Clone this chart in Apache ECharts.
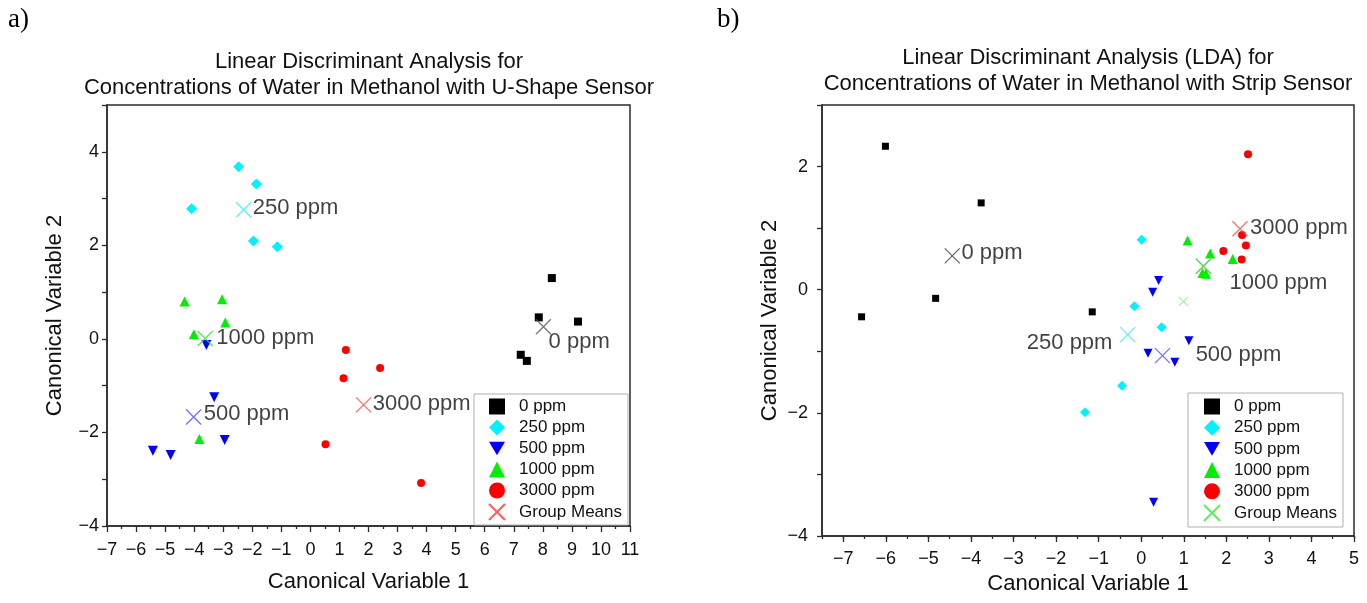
<!DOCTYPE html>
<html>
<head>
<meta charset="utf-8">
<script src="https://cdn.jsdelivr.net/npm/echarts@6/dist/echarts.min.js"></script>
<style>
  html, body { margin: 0; padding: 0; background: #fff; }
  #chart { width: 1367px; height: 603px; }
</style>
</head>
<body>
<div id="chart"></div>
<script>
// ---- Panel a) U-shape sensor: canonical scores per concentration ----
const uPpm0    = [[8.31, 1.30], [7.86, 0.46], [9.21, 0.37], [7.24, -0.34], [7.45, -0.47]];
const uPpm250  = [[-2.47, 3.68], [-1.86, 3.31], [-4.09, 2.78], [-1.96, 2.09], [-1.14, 1.97]];
const uPpm500  = [[-3.58, -0.13], [-3.31, -1.25], [-2.95, -2.16], [-5.42, -2.39], [-4.81, -2.48]];
const uPpm1000 = [[-4.33, 0.80], [-3.04, 0.85], [-2.93, 0.35], [-4.01, 0.10], [-3.82, -2.14]];
const uPpm3000 = [[1.22, -0.24], [2.40, -0.62], [1.14, -0.84], [0.52, -2.25], [3.81, -3.08]];
const uMeans   = [[8.02, 0.26, '0 ppm'], [-2.30, 2.76, '250 ppm'], [-4.02, -1.67, '500 ppm'],
                  [-3.62, 0.01, '1000 ppm'], [1.83, -1.41, '3000 ppm']];

// ---- Panel b) strip sensor ----
const sPpm0    = [[-6.01, 2.33], [-3.76, 1.41], [-4.83, -0.14], [-6.57, -0.44], [-1.15, -0.36]];
const sPpm250  = [[0.01, 0.81], [-0.16, -0.27], [0.48, -0.61], [-1.32, -1.99], [-0.45, -1.56]];
const sPpm500  = [[0.41, 0.15], [0.27, -0.04], [1.12, -0.83], [0.16, -1.03], [0.79, -1.18], [0.29, -3.45]];
const sPpm1000 = [[1.09, 0.80], [1.62, 0.59], [2.15, 0.50], [1.44, 0.27], [1.52, 0.26]];
const sPpm3000 = [[2.51, 2.20], [2.37, 0.89], [2.46, 0.72], [1.93, 0.63], [2.36, 0.49]];
const sMeans   = [[-4.44, 0.55, '0 ppm'], [-0.32, -0.73, '250 ppm'], [0.50, -1.07, '500 ppm'],
                  [1.46, 0.38, '1000 ppm'], [2.32, 0.99, '3000 ppm']];
const sExtraMean = [[0.99, -0.19]];

// ---- Axis ticks ----
const uXTicks = [-7, -6, -5, -4, -3, -2, -1, 0, 1, 2, 3, 4, 5, 6, 7, 8, 9, 10, 11];
const sXTicks = [-7, -6, -5, -4, -3, -2, -1, 0, 1, 2, 3, 4, 5];
const legendNames = ['0 ppm', '250 ppm', '500 ppm', '1000 ppm', '3000 ppm', 'Group Means'];

const FONT = '"Liberation Sans", Arial, sans-serif';
const AX = '#2b2b2b';
const minus = v => (v < 0 ? '\u2212' + Math.abs(v) : String(v));
const evenOnly = v => (Math.abs(v % 2) < 1e-9 ? minus(v) : '');
const crossPath = 'path://M0,0L20,20M20,0L0,20';

const groupColor = { '0 ppm': '#000000', '250 ppm': '#00f2ff', '500 ppm': '#0000ff',
                     '1000 ppm': '#00ee00', '3000 ppm': '#ff0000' };
const meanColorU = { '0 ppm': '#555555', '250 ppm': '#33eeff', '500 ppm': '#4d4dff',
                     '1000 ppm': '#33dd33', '3000 ppm': '#ff4d4d' };
const meanColorS = { '0 ppm': '#444444', '250 ppm': '#33eeff', '500 ppm': '#4d4dff',
                     '1000 ppm': '#22cc22', '3000 ppm': '#ff4d4d' };

// label placement beside each group-mean cross
const meanLabelU = {
  '0 ppm':    { position: 'right', distance: 1, offset: [-4, 15] },
  '250 ppm':  { position: 'right', distance: 1, offset: [0, -2] },
  '500 ppm':  { position: 'right', distance: 2, offset: [0, -3] },
  '1000 ppm': { position: 'right', distance: 3, offset: [0, 0] },
  '3000 ppm': { position: 'right', distance: 1, offset: [0, -1] }
};
const meanLabelS = {
  '0 ppm':    { position: 'right', distance: 1, offset: [0, -3] },
  '250 ppm':  { position: 'left',  distance: 7, offset: [0, 8] },
  '500 ppm':  { position: 'right', distance: 25, offset: [0, -1] },
  '1000 ppm': { position: 'right', distance: 18, offset: [0, 17] },
  '3000 ppm': { position: 'right', distance: 2, offset: [0, -1] }
};

function meanItems(arr, colors, labels) {
  return arr.map(d => ({
    name: d[2],
    value: [d[0], d[1]],
    itemStyle: { borderColor: colors[d[2]] },
    label: Object.assign({ show: true, formatter: '{b}', color: '#111', fontSize: 22, fontFamily: FONT }, labels[d[2]])
  }));
}

function groupSeries(tag, name, data, symbol, size, axisIdx) {
  return {
    type: 'scatter', name: tag + '|' + name, xAxisIndex: axisIdx, yAxisIndex: axisIdx,
    data: data, symbol: symbol, symbolSize: size,
    itemStyle: { color: groupColor[name], opacity: 1 },
    emphasis: { disabled: true }, z: 3
  };
}

const chart = echarts.init(document.getElementById('chart'), null, { renderer: 'canvas' });

const baseAxisStyle = {
  axisLine: { show: true, onZero: false, lineStyle: { color: AX, width: 1.5 } },
  splitLine: { show: false },
  axisLabel: { color: '#111', fontSize: 18, fontFamily: FONT },
  nameTextStyle: { color: '#111', fontSize: 22, fontFamily: FONT },
  nameLocation: 'middle'
};

const option = {
  animation: false,
  backgroundColor: '#ffffff',
  textStyle: { fontFamily: FONT },
  title: [
    { text: 'Linear Discriminant Analysis for\nConcentrations of Water in Methanol with U-Shape Sensor',
      left: 369, top: 49, textAlign: 'center', padding: 0,
      textStyle: { fontSize: 22, fontWeight: 'normal', color: '#111', lineHeight: 26, fontFamily: FONT } },
    { text: 'Linear Discriminant Analysis (LDA) for\nConcentrations of Water in Methanol with Strip Sensor',
      left: 1088, top: 45, textAlign: 'center', padding: 0,
      textStyle: { fontSize: 22, fontWeight: 'normal', color: '#111', lineHeight: 26, fontFamily: FONT } }
  ],
  graphic: [
    { type: 'text', left: 8, top: 6, style: { text: 'a)', fontSize: 27, fill: '#000', fontFamily: '"Liberation Serif", "Times New Roman", serif' } },
    { type: 'text', left: 717, top: 6, style: { text: 'b)', fontSize: 27, fill: '#000', fontFamily: '"Liberation Serif", "Times New Roman", serif' } }
  ],
  grid: [
    { left: 107, top: 105, width: 523, height: 421, show: true, borderColor: AX, borderWidth: 1.5, containLabel: false },
    { left: 822, top: 105, width: 532, height: 431, show: true, borderColor: AX, borderWidth: 1.5, containLabel: false }
  ],
  xAxis: [
    Object.assign({}, baseAxisStyle, {
      gridIndex: 0, type: 'value', min: -7, max: 11, interval: 1,
      name: 'Canonical Variable 1', nameGap: 45,
      axisTick: { show: true, length: 6, lineStyle: { color: AX, width: 1.3 } },
      minorTick: { show: true, splitNumber: 2, length: 3, lineStyle: { color: AX, width: 1.3 } },
      axisLabel: Object.assign({}, baseAxisStyle.axisLabel, { margin: 15, formatter: minus, showMinLabel: true, showMaxLabel: true })
    }),
    Object.assign({}, baseAxisStyle, {
      gridIndex: 1, type: 'value', min: -7.5, max: 5, interval: 0.5,
      name: 'Canonical Variable 1', nameGap: 31,
      axisTick: { show: true, length: 3, lineStyle: { color: AX, width: 1.3 } },
      axisLabel: Object.assign({}, baseAxisStyle.axisLabel, { margin: 14,
        formatter: v => (Number.isInteger(v) ? minus(v) : '') })
    }),
    // integer ticks of panel b) drawn longer than the half-unit ticks
    {
      gridIndex: 1, type: 'value', min: -7.5, max: 5, position: 'bottom', offset: 0,
      axisLine: { show: false, onZero: false }, splitLine: { show: false }, axisLabel: { show: false },
      axisTick: { show: true, customValues: sXTicks, length: 6, lineStyle: { color: AX, width: 1.3 } }
    }
  ],
  yAxis: [
    Object.assign({}, baseAxisStyle, {
      gridIndex: 0, type: 'value', min: -4, max: 5, interval: 1,
      name: 'Canonical Variable 2', nameGap: 41,
      axisTick: { show: true, length: 5, lineStyle: { color: AX, width: 1.3 } },
      axisLabel: Object.assign({}, baseAxisStyle.axisLabel, { margin: 8, formatter: evenOnly })
    }),
    Object.assign({}, baseAxisStyle, {
      gridIndex: 1, type: 'value', min: -4, max: 3, interval: 1,
      name: 'Canonical Variable 2', nameGap: 41,
      axisTick: { show: true, length: 5, lineStyle: { color: AX, width: 1.3 } },
      axisLabel: Object.assign({}, baseAxisStyle.axisLabel, { margin: 14, formatter: evenOnly })
    })
  ],
  legend: [
    { orient: 'vertical', left: 474, top: 394, itemWidth: 16, itemHeight: 16, itemGap: 4,
      padding: [4, 6, 4, 14], borderColor: '#b0b0b0', borderWidth: 1, backgroundColor: '#fff',
      selectedMode: false, formatter: n => n.split('|')[1],
      textStyle: { fontSize: 17, lineHeight: 16, color: '#111', fontFamily: FONT, padding: [0, 0, 0, 9] },
      data: legendNames.map(n => 'U|' + n) },
    { orient: 'vertical', left: 1188, top: 393, itemWidth: 16, itemHeight: 16, itemGap: 4.2,
      padding: [5, 6, 5, 15], borderColor: '#b0b0b0', borderWidth: 1, backgroundColor: '#fff',
      selectedMode: false, formatter: n => n.split('|')[1],
      textStyle: { fontSize: 17, lineHeight: 16, color: '#111', fontFamily: FONT, padding: [0, 0, 0, 9] },
      data: legendNames.map(n => 'S|' + n) }
  ],
  series: [
    groupSeries('U', '0 ppm', uPpm0, 'rect', 8, 0),
    groupSeries('U', '250 ppm', uPpm250, 'diamond', 11, 0),
    groupSeries('U', '500 ppm', uPpm500, 'path://M0,0L20,0L10,17Z', 10, 0),
    groupSeries('U', '1000 ppm', uPpm1000, 'triangle', 10, 0),
    groupSeries('U', '3000 ppm', uPpm3000, 'circle', 8, 0),
    {
      type: 'scatter', name: 'U|Group Means', xAxisIndex: 0, yAxisIndex: 0,
      symbol: crossPath, symbolSize: 15,
      itemStyle: { color: 'rgba(0,0,0,0)', borderColor: '#ff3333', borderWidth: 1.3 },
      emphasis: { disabled: true }, z: 4,
      data: meanItems(uMeans, meanColorU, meanLabelU)
    },
    groupSeries('S', '0 ppm', sPpm0, 'rect', 7, 1),
    groupSeries('S', '250 ppm', sPpm250, 'diamond', 10, 1),
    groupSeries('S', '500 ppm', sPpm500, 'path://M0,0L20,0L10,17Z', 9, 1),
    groupSeries('S', '1000 ppm', sPpm1000, 'triangle', 10, 1),
    groupSeries('S', '3000 ppm', sPpm3000, 'circle', 8, 1),
    {
      type: 'scatter', name: 'S|Group Means', xAxisIndex: 1, yAxisIndex: 1,
      symbol: crossPath, symbolSize: 15,
      itemStyle: { color: 'rgba(0,0,0,0)', borderColor: '#33ee33', borderWidth: 1.3 },
      emphasis: { disabled: true }, z: 4,
      data: meanItems(sMeans, meanColorS, meanLabelS)
    },
    {
      type: 'scatter', name: 'S|extra', xAxisIndex: 1, yAxisIndex: 1,
      symbol: crossPath, symbolSize: 9,
      itemStyle: { color: 'rgba(0,0,0,0)', borderColor: '#88ee88', borderWidth: 1.1 },
      emphasis: { disabled: true }, z: 4,
      data: sExtraMean
    }
  ]
};

chart.setOption(option);
</script>
</body>
</html>
